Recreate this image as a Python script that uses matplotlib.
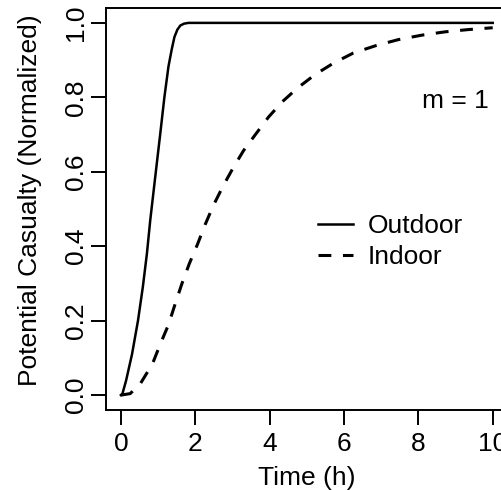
import matplotlib
matplotlib.use('Agg')
import matplotlib.pyplot as plt

plt.rcParams['font.family'] = ['Liberation Sans', 'DejaVu Sans']

# values
outdoor_t = [0, 0.04, 0.14, 0.30, 0.46, 0.59, 0.70, 0.79, 0.94, 1.06, 1.17, 1.28, 1.37, 1.44, 1.52, 1.60, 1.70, 1.82, 10.0]
outdoor_v = [0, 0.003, 0.039, 0.110, 0.200, 0.290, 0.380, 0.470, 0.600, 0.703, 0.800, 0.883, 0.930, 0.962, 0.982, 0.993, 0.998, 1.0, 1.0]

indoor_t = [0, 0.25, 0.52, 0.85, 1.06, 1.28, 1.46, 1.64, 1.84, 2.06, 2.27, 2.49, 2.74, 3.01,
            3.30, 3.64, 3.97, 4.35, 4.75, 5.22, 5.72, 6.25, 6.86, 7.46, 8.09, 8.72, 9.34, 10.0]
indoor_v = [0, 0.004, 0.030, 0.084, 0.137, 0.189, 0.245, 0.299, 0.353, 0.405, 0.459, 0.510, 0.560, 0.609,
            0.657, 0.703, 0.747, 0.789, 0.825, 0.861, 0.892, 0.919, 0.939, 0.955, 0.967, 0.976, 0.982, 0.987]

xticks = [0, 2, 4, 6, 8, 10]
yticks = [0.0, 0.2, 0.4, 0.6, 0.8, 1.0]
fs = 19

fig = plt.figure(figsize=(5.01, 4.9), dpi=100)
ax = fig.add_axes([106/501, 80/490, 401.6/501, 402/490])

ax.plot(outdoor_t, outdoor_v, color='black', lw=1.8, label='Outdoor')
ax.plot(indoor_t, indoor_v, color='black', lw=2.2, dashes=(4.2, 3.8), label='Indoor')

ax.set_xlim(-0.4, 10.4)
ax.set_ylim(-0.04, 1.04)
ax.set_xticks(xticks)
ax.set_xticklabels([str(v) for v in xticks])
ax.set_yticks(yticks)
ax.set_yticklabels(['%.1f' % v for v in yticks])

for s in ax.spines.values():
    s.set_linewidth(1.4)
ax.tick_params(direction='out', length=11, width=1.4, labelsize=fs, pad=5)
ax.tick_params(axis='y', pad=2)
for lab in ax.get_yticklabels():
    lab.set_rotation(90)
    lab.set_va('center')

ax.set_xlabel('Time (h)', fontsize=fs)
ax.xaxis.set_label_coords(0.5, -0.17)
ax.xaxis.label.set_va('center')
ax.set_ylabel('Potential Casualty (Normalized)', fontsize=fs)
ax.yaxis.set_label_coords(-0.189, 0.522)
ax.yaxis.label.set_va('center')

ax.text(9.0, 0.79, 'm = 1', fontsize=fs, ha='center', va='center')

ax.legend(loc='upper left', bbox_to_anchor=(0.527, 0.488), frameon=False, fontsize=fs,
          handlelength=1.35, handletextpad=0.55, labelspacing=0.27, borderpad=0, borderaxespad=0)

plt.savefig('out.png', dpi=100)
